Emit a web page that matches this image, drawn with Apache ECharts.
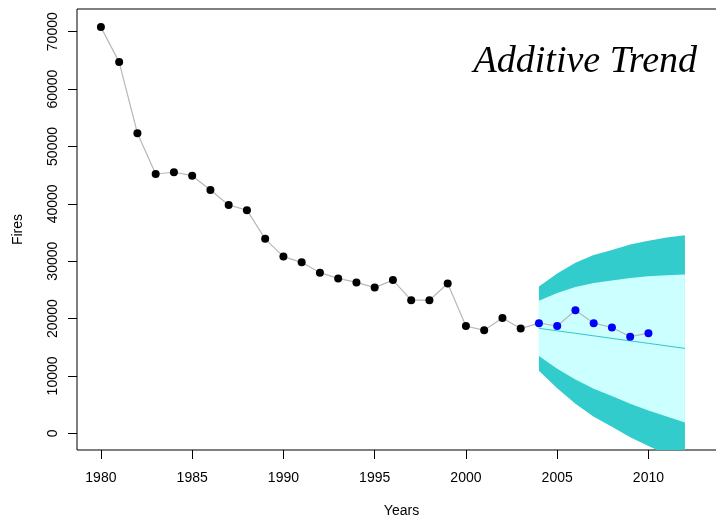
<!DOCTYPE html>
<html>
<head>
<meta charset="utf-8">
<script src="https://cdn.jsdelivr.net/npm/echarts@6/dist/echarts.min.js"></script>
<style>
  html, body { margin: 0; padding: 0; background: #fff; }
  #chart { width: 716px; height: 516px; }
</style>
</head>
<body>
<div id="chart"></div>
<script>
// Observed yearly fire counts
const years = [1980, 1981, 1982, 1983, 1984, 1985, 1986, 1987, 1988, 1989,
               1990, 1991, 1992, 1993, 1994, 1995, 1996, 1997, 1998, 1999,
               2000, 2001, 2002, 2003, 2004, 2005, 2006, 2007, 2008, 2009, 2010];
const fires = [70800, 64700, 52300, 45200, 45500, 44900, 42400, 39800, 38900, 33900,
               30800, 29800, 28000, 27000, 26300, 25400, 26700, 23200, 23200, 26100,
               18700, 17950, 20100, 18250, 19200, 18700, 21450, 19200, 18450, 16850, 17450];
// Years used to fit the model (black) vs. held-out years (blue)
const fitEndYear = 2003;

// Holt additive-trend forecast with 80% and 95% intervals
const fcYears = [2004, 2005, 2006, 2007, 2008, 2009, 2010, 2011, 2012];
const fcMean  = [18300, 17860, 17430, 16990, 16550, 16110, 15680, 15240, 14800];
const hi80    = [23120, 24460, 25480, 26210, 26620, 27090, 27380, 27570, 27700];
const lo80    = [13480, 11260, 9380, 7770, 6480, 5130, 3980, 2910, 1900];
const hi95    = [25600, 27860, 29730, 31090, 31950, 32910, 33580, 34140, 34500];
const lo95    = [10900, 7860, 5130, 2890, 1150, -690, -2220, -3660, -4900];

const xTicks = [1980, 1985, 1990, 1995, 2000, 2005, 2010];
const yTicks = [0, 10000, 20000, 30000, 40000, 50000, 60000, 70000];

const pairs = (xs, ys) => xs.map((x, i) => [x, ys[i]]);

const obsFit = [], obsTest = [];
years.forEach((y, i) => (y <= fitEndYear ? obsFit : obsTest).push([y, fires[i]]));

const dark = '#33cccc', light = '#ccffff';
const font = "'Liberation Sans', Arial, Helvetica, sans-serif";

// Prediction-interval band: one filled polygon between upper and lower bounds
const band = (name, upper, lower, color, z) => ({
  name, type: 'custom', silent: true, clip: true, z,
  data: pairs(fcYears, fcMean),
  renderItem(params, api) {
    if (params.dataIndex !== 0) return null;
    const pts = [];
    for (let i = 0; i < fcYears.length; i++) pts.push(api.coord([fcYears[i], upper[i]]));
    for (let i = fcYears.length - 1; i >= 0; i--) pts.push(api.coord([fcYears[i], lower[i]]));
    return { type: 'polygon', shape: { points: pts }, style: { fill: color, stroke: null } };
  }
});

const chart = echarts.init(document.getElementById('chart'), null, { renderer: 'canvas' });
chart.setOption({
  animation: false,
  backgroundColor: '#ffffff',
  title: {
    text: 'Additive Trend',
    right: 14, top: 38,
    textStyle: { fontFamily: "'Liberation Serif', 'Times New Roman', serif", fontStyle: 'italic',
                 fontWeight: 'normal', fontSize: 38, color: '#000' }
  },
  grid: {
    left: 77, top: 9, width: 649, bottom: 66,
    outerBoundsMode: 'none', containLabel: false,
    show: true, borderColor: '#000', borderWidth: 1, backgroundColor: 'transparent'
  },
  xAxis: {
    type: 'value', min: 1978.69, max: 2014.25,
    name: 'Years', nameLocation: 'middle', nameGap: 54,
    nameTextStyle: { fontFamily: font, fontSize: 14, color: '#000' },
    axisLine: { show: false, onZero: false },
    axisTick: { show: true, inside: false, length: 9, customValues: xTicks,
                lineStyle: { color: '#000', width: 1 } },
    axisLabel: { customValues: xTicks, margin: 21, fontFamily: font, fontSize: 14, color: '#000',
                 formatter: v => String(v) },
    splitLine: { show: false }
  },
  yAxis: {
    type: 'value', min: -2911, max: 73958,
    name: 'Fires', nameLocation: 'middle', nameGap: 52, nameRotate: 90,
    nameTextStyle: { fontFamily: font, fontSize: 14, color: '#000' },
    axisLine: { show: false, onZero: false },
    axisTick: { show: true, inside: false, length: 9, customValues: yTicks,
                lineStyle: { color: '#000', width: 1 } },
    axisLabel: { customValues: yTicks, rotate: 90, margin: 17, fontFamily: font, fontSize: 14, color: '#000',
                 formatter: v => String(v) },
    splitLine: { show: false }
  },
  series: [
    band('95%', hi95, lo95, dark, 1),
    band('80%', hi80, lo80, light, 2),
    {
      name: 'forecast', type: 'line', data: pairs(fcYears, fcMean), symbol: 'none',
      lineStyle: { color: '#2ec8c8', width: 1 }, z: 3
    },
    {
      name: 'fires', type: 'line', data: pairs(years, fires), symbol: 'none',
      lineStyle: { color: '#b8b8b8', width: 1.2 }, z: 4
    },
    {
      name: 'fitted', type: 'scatter', data: obsFit, symbol: 'circle', symbolSize: 8,
      itemStyle: { color: '#000', opacity: 1 }, z: 5
    },
    {
      name: 'held out', type: 'scatter', data: obsTest, symbol: 'circle', symbolSize: 8,
      itemStyle: { color: '#0000ff', opacity: 1 }, z: 5
    }
  ]
});
</script>
</body>
</html>
